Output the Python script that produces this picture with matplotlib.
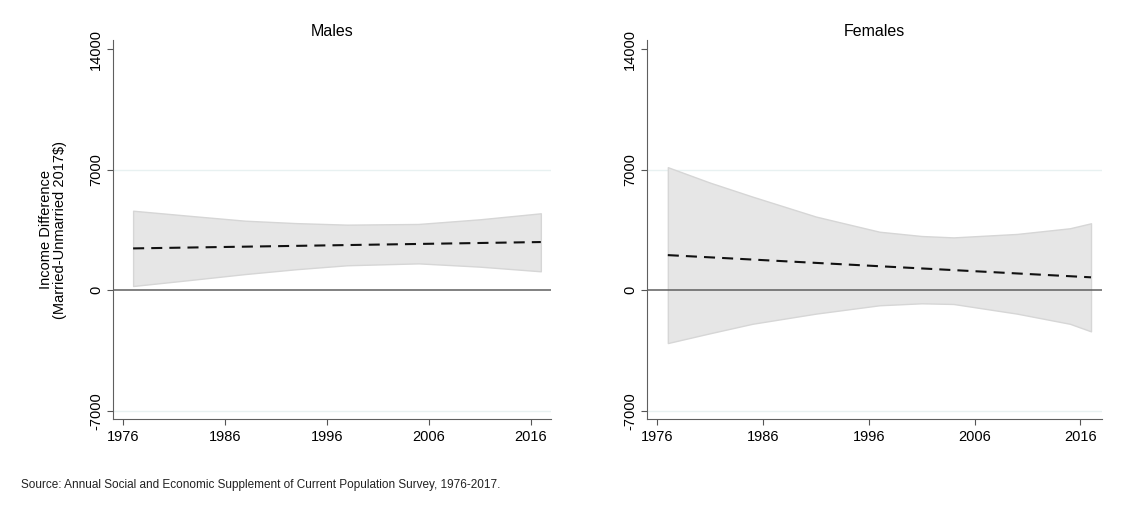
import matplotlib
matplotlib.use("Agg")
import matplotlib.pyplot as plt

plt.rcParams['font.family'] = ['Liberation Sans', 'DejaVu Sans']
plt.rcParams['axes.unicode_minus'] = False

# Datos (diferencia de ingreso, dolares de 2017)
males_years = [1977, 1983, 1988, 1993, 1998, 2005, 2011, 2017]
males_upper = [4620, 4300, 4040, 3900, 3810, 3850, 4120, 4470]
males_lower = [245, 620, 940, 1220, 1450, 1560, 1370, 1100]
males_mean_years = [1977, 1997, 2017]
males_mean = [2430, 2615, 2800]

females_years = [1977, 1981, 1985, 1991, 1997, 2001, 2004, 2010, 2015, 2017]
females_upper = [7150, 6250, 5440, 4280, 3400, 3150, 3070, 3270, 3600, 3890]
females_lower = [-3070, -2500, -1950, -1360, -875, -760, -800, -1360, -1950, -2390]
females_mean_years = [1977, 1997, 2017]
females_mean = [2040, 1395, 750]

panels = ['Males', 'Females']
xticks = [1976, 1986, 1996, 2006, 2016]
yticks = [-7000, 0, 7000, 14000]

fig = plt.figure(figsize=(11.25, 5.05), dpi=100)
ax1 = fig.add_axes([0.1002, 0.1697, 0.3896, 0.7511])
ax2 = fig.add_axes([0.5748, 0.1697, 0.4044, 0.7511])

datos = [
    (ax1, males_years, males_upper, males_lower, males_mean_years, males_mean),
    (ax2, females_years, females_upper, females_lower, females_mean_years, females_mean),
]

for (ax, yrs, up, lo, my, m), titulo in zip(datos, panels):
    ax.fill_between(yrs, lo, up, facecolor='#e6e6e6',
                    edgecolor='#d6d6d6', linewidth=1, zorder=1)
    ax.axhline(0, color='#5f5f5f', linewidth=1.1, zorder=2)
    for g in [-7000, 7000]:
        ax.axhline(g, color='#e8f1f1', linewidth=1, zorder=0)
    ax.plot(my, m, color='#111111', linestyle=(0, (5.3, 3.4)), linewidth=1.5, zorder=3)

    ax.set_xlim(1975.0, 2018.0)
    ax.set_ylim(-7500, 14540)
    ax.set_xticks(xticks)
    ax.set_yticks(yticks)
    ax.tick_params(axis='both', labelsize=10.5, color='#555555', length=4,
                   width=0.8)
    ax.tick_params(axis='x', pad=4)
    ax.tick_params(axis='y', pad=3)
    for lbl in ax.get_yticklabels():
        lbl.set_rotation(90)
        lbl.set_va('center')
    ax.spines['top'].set_visible(False)
    ax.spines['right'].set_visible(False)
    ax.spines['left'].set_color('#5f5f5f')
    ax.spines['bottom'].set_color('#5f5f5f')
    ax.set_title(titulo, fontsize=11.5, pad=3)

ax1.set_ylabel('Income Difference\n(Married-Unmarried 2017$)', fontsize=10.5,
               labelpad=16, linespacing=1.0)

fig.text(0.019, 0.033, 'Source: Annual Social and Economic Supplement of Current '
         'Population Survey, 1976-2017.', fontsize=8.5, color='#222222')

fig.savefig('out.png', dpi=100)
